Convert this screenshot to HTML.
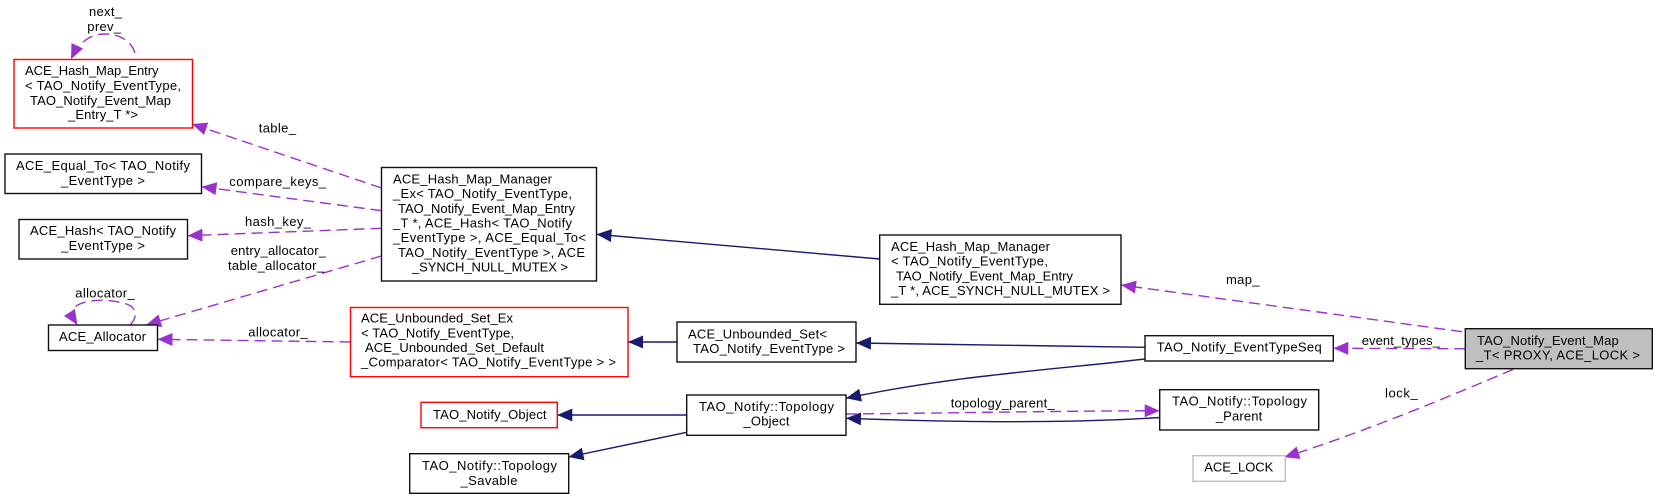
<!DOCTYPE html>
<html><head><meta charset="utf-8"><title>TAO_Notify_Event_Map_T collaboration diagram</title>
<style>
html,body{margin:0;padding:0;background:#fff;width:1657px;height:500px;overflow:hidden}
svg{display:block}
text{font-family:"Liberation Sans",sans-serif;font-size:13px;fill:#000}
.b{fill:#fff;stroke:#111;stroke-width:1.4}
.r{fill:#fff;stroke:#f00;stroke-width:1.4}
.g{fill:#fff;stroke:#bfbfbf;stroke-width:1.4}
.d{fill:none;stroke:#9a32cd;stroke-width:1.4;stroke-dasharray:11,6;marker-end:url(#mp)}
.n{fill:none;stroke:#191970;stroke-width:1.4;marker-end:url(#mn)}
</style></head><body>
<svg width="1657" height="500" viewBox="0 0 1657 500" xmlns="http://www.w3.org/2000/svg">
<defs>
<marker id="mp" markerUnits="userSpaceOnUse" markerWidth="17" markerHeight="14" refX="15" refY="6.5" orient="auto"><path d="M0,0L15,6.5L0,13z" fill="#9a32cd"/></marker>
<marker id="mn" markerUnits="userSpaceOnUse" markerWidth="17" markerHeight="14" refX="15" refY="6.5" orient="auto"><path d="M0,0L15,6.5L0,13z" fill="#191970"/></marker>
</defs>

<!-- edges -->
<path class="d" d="M135,53C131,40 118,34 105,34C92,34 80,40 71,59.3"/>
<path class="d" d="M381.5,188L192,124"/>
<path class="d" d="M381.5,210.7L201.5,186.7"/>
<path class="d" d="M381.5,228.3L187.5,235.7"/>
<path class="d" d="M381.5,256L146,325"/>
<path class="d" d="M130,325C136,319 137,313 132,307C124,300 85,296 74,308C71,312 73,318 77.5,325"/>
<path class="d" d="M350.5,342L157.5,339.3"/>
<path class="n" d="M879.7,259L596.5,234.3"/>
<path class="d" d="M1462,331.7L1121,285"/>
<path class="d" d="M1465.3,348.7L1333.3,348.3"/>
<path class="d" d="M1513,369.5C1450,396 1370,430 1284.3,457.3"/>
<path class="n" d="M677,342L628,342"/>
<path class="n" d="M1145,347.3L856,343"/>
<path class="n" d="M1145,359C1060,369 950,376 846,398.3"/>
<path class="n" d="M1160,417.5C1100,421.5 1000,424 846,418.3"/>
<path class="d" d="M846,414C950,413 1060,411 1159.7,410.7"/>
<path class="n" d="M686.7,415L557.3,415"/>
<path class="n" d="M686.7,432.3L568.5,457"/>

<!-- nodes -->
<rect class="r" x="14" y="59.5" width="178.5" height="68.5"/>
<text x="25" y="75" textLength="133.5">ACE_Hash_Map_Entry</text>
<text x="25" y="90" textLength="156">&lt; TAO_Notify_EventType,</text>
<text x="30" y="105" textLength="141">TAO_Notify_Event_Map</text>
<text x="68" y="119" textLength="70">_Entry_T *&gt;</text>

<rect class="b" x="5" y="154" width="196.5" height="39.5"/>
<text x="16" y="170" textLength="174">ACE_Equal_To&lt; TAO_Notify</text>
<text x="61" y="185" textLength="84">_EventType &gt;</text>

<rect class="b" x="19" y="219.5" width="168.5" height="39.5"/>
<text x="30" y="235" textLength="146">ACE_Hash&lt; TAO_Notify</text>
<text x="61" y="250" textLength="84">_EventType &gt;</text>

<rect class="b" x="48.5" y="325" width="109" height="25.5"/>
<text x="59" y="341" textLength="87">ACE_Allocator</text>

<rect class="b" x="381.5" y="167.5" width="215" height="113.5"/>
<text x="393" y="183.5" textLength="159">ACE_Hash_Map_Manager</text>
<text x="393" y="198" textLength="179">_Ex&lt; TAO_Notify_EventType,</text>
<text x="398" y="212.8" textLength="177">TAO_Notify_Event_Map_Entry</text>
<text x="393" y="227.5" textLength="179">_T *, ACE_Hash&lt; TAO_Notify</text>
<text x="393" y="242" textLength="193">_EventType &gt;, ACE_Equal_To&lt;</text>
<text x="398" y="256.8" textLength="187">TAO_Notify_EventType &gt;, ACE</text>
<text x="412" y="271.5" textLength="156">_SYNCH_NULL_MUTEX &gt;</text>

<rect class="b" x="879.7" y="235" width="241.3" height="69.3"/>
<text x="891" y="251" textLength="159">ACE_Hash_Map_Manager</text>
<text x="891" y="265.7" textLength="157">&lt; TAO_Notify_EventType,</text>
<text x="896" y="280.3" textLength="177">TAO_Notify_Event_Map_Entry</text>
<text x="891" y="295" textLength="219">_T *, ACE_SYNCH_NULL_MUTEX &gt;</text>

<rect class="r" x="350.5" y="307.5" width="277.5" height="69.2"/>
<text x="361" y="322.7" textLength="152">ACE_Unbounded_Set_Ex</text>
<text x="361" y="337.3" textLength="153">&lt; TAO_Notify_EventType,</text>
<text x="365" y="352" textLength="179">ACE_Unbounded_Set_Default</text>
<text x="361" y="366.7" textLength="255">_Comparator&lt; TAO_Notify_EventType &gt; &gt;</text>

<rect class="b" x="677" y="322" width="179" height="40"/>
<text x="688" y="338.3" textLength="139">ACE_Unbounded_Set&lt;</text>
<text x="693" y="353" textLength="152">TAO_Notify_EventType &gt;</text>

<rect class="r" x="421" y="402.3" width="136.3" height="25.4"/>
<text x="433" y="419" textLength="113.5">TAO_Notify_Object</text>

<rect class="b" x="409.7" y="453.7" width="159" height="39.6"/>
<text x="422" y="470" textLength="135">TAO_Notify::Topology</text>
<text x="460.5" y="485" textLength="57">_Savable</text>

<rect class="b" x="686.7" y="395" width="159.3" height="40.3"/>
<text x="699" y="411" textLength="135">TAO_Notify::Topology</text>
<text x="743.5" y="425.7" textLength="46">_Object</text>

<rect class="b" x="1145" y="335.7" width="188.3" height="25.3"/>
<text x="1156.7" y="351.7" textLength="165">TAO_Notify_EventTypeSeq</text>

<rect class="b" x="1159.7" y="389.7" width="159" height="40.3"/>
<text x="1172" y="405.7" textLength="135">TAO_Notify::Topology</text>
<text x="1215.7" y="420.3" textLength="46.6">_Parent</text>

<rect class="g" x="1193" y="455.7" width="92.3" height="25.6"/>
<text x="1204.3" y="471.7" textLength="69">ACE_LOCK</text>

<rect x="1465.3" y="328.7" width="187" height="40" fill="#bfbfbf" stroke="#111" stroke-width="1.4"/>
<text x="1477" y="345" textLength="141.7">TAO_Notify_Event_Map</text>
<text x="1476" y="359.7" textLength="164">_T&lt; PROXY, ACE_LOCK &gt;</text>

<!-- edge labels -->
<text x="89" y="16" textLength="33">next_</text>
<text x="87.3" y="31" textLength="33.7">prev_</text>
<text x="258.7" y="132.7" textLength="37.3">table_</text>
<text x="229.3" y="186" textLength="96.7">compare_keys_</text>
<text x="245" y="226" textLength="66">hash_key_</text>
<text x="230.7" y="255" textLength="95.3">entry_allocator_</text>
<text x="228" y="270" textLength="96">table_allocator_</text>
<text x="75.3" y="297.3" textLength="59.4">allocator_</text>
<text x="248.3" y="336.7" textLength="59.4">allocator_</text>
<text x="1226" y="284" textLength="33.5">map_</text>
<text x="1361.7" y="345" textLength="78.3">event_types_</text>
<text x="1385" y="397.7" textLength="32.7">lock_</text>
<text x="950.7" y="407.3" textLength="104">topology_parent_</text>
</svg>
</body></html>
